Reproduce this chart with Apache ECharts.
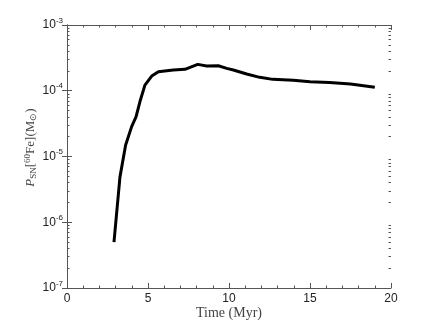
<html lang="en">
<head>
<meta charset="UTF-8">
<script src="https://cdn.jsdelivr.net/npm/echarts@6/dist/echarts.min.js"></script>
<title>Fe60</title>
<style>body{margin:0;background:#fff;}</style>
</head>
<body>
<div id="main" style="width:432px;height:325px;"></div>
<script>
// time in Myr and mass in solar masses
var timeMyr = [2.9, 3.27, 3.62, 3.99, 4.26, 4.5, 4.81, 5.23, 5.64, 6.56, 7.28, 8.07, 8.62, 9.34, 9.86, 10.27, 11.09, 11.9, 12.7, 13.97, 15.0, 16.2, 17.5, 19.0];
var massFe = [5.0e-7, 4.9e-6, 1.5e-5, 2.85e-5, 4.0e-5, 6.8e-5, 1.22e-4, 1.67e-4, 1.95e-4, 2.07e-4, 2.12e-4, 2.52e-4, 2.38e-4, 2.4e-4, 2.19e-4, 2.07e-4, 1.8e-4, 1.6e-4, 1.49e-4, 1.44e-4, 1.37e-4, 1.34e-4, 1.27e-4, 1.13e-4];
var decades = [1e-7, 1e-6, 1e-5, 1e-4];

// minor log ticks at 2..9 of each decade
var minorY = [];
decades.forEach(function (d) {
  for (var k = 2; k <= 9; k++) minorY.push(k * d);
});

var axisColor = '#555';
var textColor = '#222';

function supLabel(v) {
  var e = Math.round(Math.log10(v));
  return '{b|10}{s|' + e + '}';
}

var myChart = echarts.init(document.getElementById('main'));

var line = { show: true, lineStyle: { color: axisColor, width: 1 } };
var majorTick = { inside: true, length: 5, lineStyle: { color: axisColor } };

function xAx(pos, labels) {
  return {
    type: 'value', min: 0, max: 20, interval: 5, position: pos,
    axisLine: line, splitLine: { show: false },
    axisTick: majorTick,
    minorTick: { show: true, splitNumber: 5, length: 2.5, lineStyle: { color: axisColor } },
    axisLabel: labels ? { color: textColor, fontSize: 12, fontFamily: 'Liberation Sans', margin: 5 } : { show: false }
  };
}

function yMinor(pos) {
  return {
    type: 'log', min: 1e-7, max: 1e-3, position: pos,
    axisLine: { show: false }, splitLine: { show: false },
    axisTick: { show: true, inside: true, length: 2.5, customValues: minorY, lineStyle: { color: axisColor } },
    axisLabel: { show: false }
  };
}

var xMain = xAx('bottom', true);
xMain.name = 'Time (Myr)';
xMain.nameLocation = 'middle';
xMain.nameGap = 18;
xMain.nameMoveOverlap = false;
xMain.nameTextStyle = { color: '#444', fontSize: 14, fontFamily: 'Liberation Serif' };

var option = {
  animation: false,
  backgroundColor: '#fff',
  grid: { left: 67, right: 41, top: 25, bottom: 37, outerBoundsMode: 'none', containLabel: false },
  xAxis: [xMain, xAx('top', false)],
  yAxis: [{
    type: 'log', min: 1e-7, max: 1e-3, position: 'left',
    axisLine: line, splitLine: { show: false },
    axisTick: majorTick,
    axisLabel: {
      color: textColor, margin: 4, formatter: supLabel,
      rich: {
        b: { fontSize: 12, fontFamily: 'Liberation Sans', color: textColor },
        s: { fontSize: 8, fontFamily: 'Liberation Sans', color: textColor, padding: [0, 0, 9, 0] }
      }
    },
    name: '{i|P}{sub|SN}{r|[}{sup|60}{r|Fe](M}{sub|\u2299}{r|)}',
    nameLocation: 'middle', nameRotate: 90, nameGap: 28, nameMoveOverlap: false,
    nameTextStyle: {
      color: '#444',
      padding: [0, 0, 0, 18],
      rich: {
        i: { fontSize: 13, fontFamily: 'Liberation Serif', fontStyle: 'italic', color: '#444' },
        r: { fontSize: 13, fontFamily: 'Liberation Serif', color: '#444' },
        sub: { fontSize: 9, fontFamily: 'Liberation Serif', color: '#444', padding: [6, 0, 0, 0] },
        sup: { fontSize: 9, fontFamily: 'Liberation Serif', color: '#444', padding: [0, 0, 7, 0] }
      }
    }
  }, {
    type: 'log', min: 1e-7, max: 1e-3, position: 'right',
    axisLine: line, splitLine: { show: false },
    axisTick: majorTick,
    axisLabel: { show: false }
  }, yMinor('left'), yMinor('right')],
  series: [{
    type: 'line',
    xAxisIndex: 0, yAxisIndex: 0,
    data: timeMyr.map(function (t, i) { return [t, massFe[i]]; }),
    showSymbol: false,
    lineStyle: { color: '#000', width: 3 }
  }]
};

myChart.setOption(option);
</script>
</body>
</html>
